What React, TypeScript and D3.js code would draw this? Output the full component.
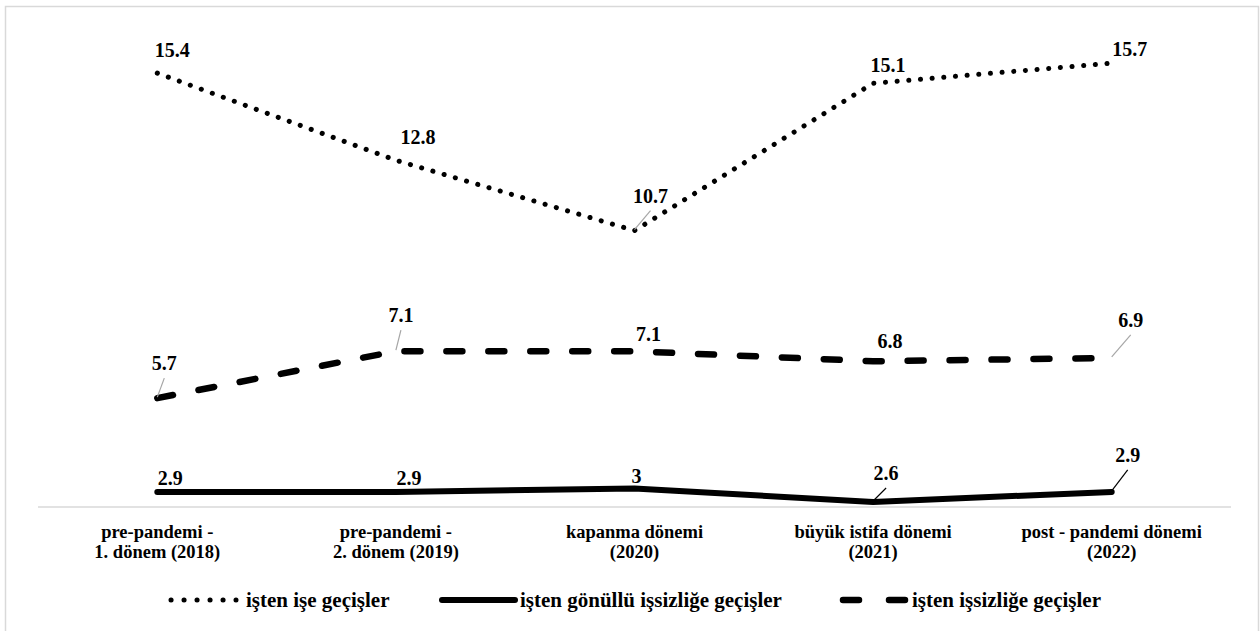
import React from "react";
import * as d3 from "d3";

// Periods on the x axis (two-line labels)
const periods: string[][] = [
  ["pre-pandemi -", "1. dönem (2018)"],
  ["pre-pandemi -", "2. dönem (2019)"],
  ["kapanma dönemi", "(2020)"],
  ["büyük istifa dönemi", "(2021)"],
  ["post - pandemi dönemi", "(2022)"],
];

// Series values
const isteniseGecis: number[] = [15.4, 12.8, 10.7, 15.1, 15.7];
const gonulluIssizlik: number[] = [2.9, 2.9, 3, 2.6, 2.9];
const issizligeGecis: number[] = [5.7, 7.1, 7.1, 6.8, 6.9];

const seriesNames = [
  "işten işe geçişler",
  "işten gönüllü işsizliğe geçişler",
  "işten işsizliğe geçişler",
];

const W = 1260;
const H = 631;
const FONT = "Liberation Serif, Times New Roman, DejaVu Serif, serif";

// Plot frame
const plotLeft = 38;
const plotRight = 1231;
const axisY = 507;

// Manual data-label placement (offset of label centre from its point) and leader flag
type LabelPos = { dx: number; dy: number; leader?: boolean };
const dottedLabels: LabelPos[] = [
  { dx: 15, dy: -23 },
  { dx: 22, dy: -23 },
  { dx: 16, dy: -35, leader: true },
  { dx: 15, dy: -18 },
  { dx: 18, dy: -14 },
];
const dashedLabels: LabelPos[] = [
  { dx: 7, dy: -35, leader: true },
  { dx: 5, dy: -36, leader: true },
  { dx: 14, dy: -17 },
  { dx: 17, dy: -20 },
  { dx: 19, dy: -38, leader: true },
];
const solidLabels: LabelPos[] = [
  { dx: 13, dy: -14 },
  { dx: 13, dy: -14 },
  { dx: 2, dy: -13 },
  { dx: 13, dy: -29, leader: true },
  { dx: 16, dy: -37, leader: true },
];

const textStyle = { fontFamily: FONT, fontWeight: 700 } as const;

export default function App() {
  const keys = periods.map((_, i) => String(i));
  const x = d3.scalePoint<string>().domain(keys).range([plotLeft, plotRight]).padding(0.5);
  const y = d3.scaleLinear().domain([2.45, 17]).range([axisY, axisY - 14.55 * 33.5]);

  const line = d3
    .line<number>()
    .x((_, i) => x(String(i)) as number)
    .y((d) => y(d));

  const series = [
    {
      values: isteniseGecis,
      labels: dottedLabels,
      style: { strokeWidth: 5, strokeDasharray: "0.1 11.6", strokeLinecap: "round" as const },
      leaderColor: "#a6a6a6",
    },
    {
      values: issizligeGecis,
      labels: dashedLabels,
      style: { strokeWidth: 6.5, strokeDasharray: "16 25.95", strokeLinecap: "round" as const },
      leaderColor: "#a6a6a6",
    },
    {
      values: gonulluIssizlik,
      labels: solidLabels,
      style: { strokeWidth: 6, strokeLinecap: "round" as const },
      leaderColor: "#000",
    },
  ];

  const legendY = 600;
  const legendItems = [
    { name: seriesNames[0], x0: 171, x1: 236, tx: 246, style: { strokeWidth: 5, strokeDasharray: "0.1 12.9", strokeLinecap: "round" as const } },
    { name: seriesNames[1], x0: 442, x1: 515, tx: 520, style: series[2].style },
    { name: seriesNames[2], x0: 843, x1: 905, tx: 912, style: { ...series[1].style, strokeDasharray: "16 30" } },
  ];

  return (
    <svg
      width={W}
      height={H}
      style={{ position: "absolute", left: 0, top: 0, background: "#fff" }}
    >
      <rect x={5.5} y={6.5} width={1253} height={640} fill="#fff" stroke="#d9d9d9" strokeWidth={1.5} />

      {/* category axis */}
      <line x1={plotLeft} x2={plotRight} y1={axisY} y2={axisY} stroke="#d9d9d9" strokeWidth={1.5} />
      {periods.map((lines, i) => (
        <text key={i} x={x(String(i))} textAnchor="middle" fontSize={18.5} fill="#000" style={textStyle}>
          <tspan x={x(String(i))} y={538}>{lines[0]}</tspan>
          <tspan x={x(String(i))} y={558}>{lines[1]}</tspan>
        </text>
      ))}

      {/* series lines */}
      {series.map((s, si) => (
        <path
          key={si}
          d={line(s.values) || ""}
          fill="none"
          stroke="#000"
          strokeLinejoin="round"
          {...s.style}
        />
      ))}

      {/* data labels */}
      {series.map((s, si) =>
        s.values.map((v, i) => {
          const px = x(String(i)) as number;
          const py = y(v);
          const lp = s.labels[i];
          const lx = px + lp.dx;
          const ly = py + lp.dy;
          return (
            <g key={`${si}-${i}`}>
              {lp.leader && (
                <line x1={px} y1={py - 1} x2={lx} y2={ly + 15} stroke={s.leaderColor} strokeWidth={1.2} />
              )}
              <text x={lx} y={ly + 7} textAnchor="middle" fontSize={20} fill="#000" style={textStyle}>
                {String(v)}
              </text>
            </g>
          );
        })
      )}

      {/* legend */}
      {legendItems.map((it, i) => (
        <g key={i}>
          <line x1={it.x0} x2={it.x1} y1={legendY} y2={legendY} stroke="#000" {...it.style} />
          <text x={it.tx} y={legendY + 7} fontSize={21} fill="#000" style={textStyle}>
            {it.name}
          </text>
        </g>
      ))}
    </svg>
  );
}
